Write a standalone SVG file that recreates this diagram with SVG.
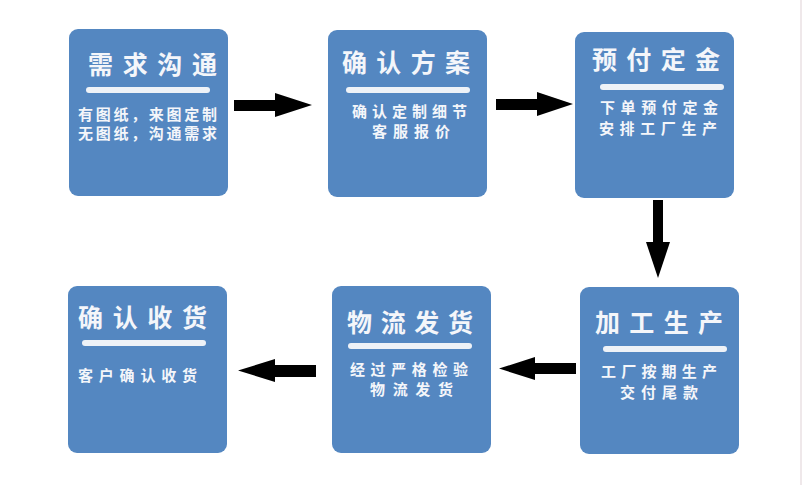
<svg xmlns="http://www.w3.org/2000/svg" width="802" height="486" viewBox="0 0 802 486">
<style>
.box{fill:#5487c1}
.bar{fill:#eef2f7}
.t{font-family:"Noto Sans CJK SC","Noto Sans CJK JP",sans-serif;font-size:25px;font-weight:bold;fill:#f4f6fa}
.s{font-family:"Noto Sans CJK SC","Noto Sans CJK JP",sans-serif;font-size:15px;font-weight:bold;fill:#f4f6fa}
.arr{fill:#000}
</style>
<rect width="802" height="486" fill="#ffffff"/>
<rect x="800" y="0" width="2" height="485" fill="#efe8ea"/>
<g id="node-xuqiu">
<rect class="box" x="69" y="29" width="159" height="167" rx="9"/>
<text class="t" x="88" y="74" textLength="129" lengthAdjust="spacing">需求沟通</text>
<rect class="bar" x="86" y="87" width="124" height="6" rx="3"/>
<text class="s" x="78" y="120" textLength="139" lengthAdjust="spacing">有图纸，来图定制</text>
<text class="s" x="78" y="139" textLength="139" lengthAdjust="spacing">无图纸，沟通需求</text>
</g>
<g id="node-fangan">
<rect class="box" x="328" y="30" width="159" height="167" rx="9"/>
<text class="t" x="342" y="72" textLength="128" lengthAdjust="spacing">确认方案</text>
<rect class="bar" x="346" y="87" width="124" height="6" rx="3"/>
<text class="s" x="352" y="117" textLength="115" lengthAdjust="spacing">确认定制细节</text>
<text class="s" x="372" y="137" textLength="78" lengthAdjust="spacing">客服报价</text>
</g>
<g id="node-dingjin">
<rect class="box" x="575" y="32" width="159" height="166" rx="9"/>
<text class="t" x="592" y="69" textLength="128" lengthAdjust="spacing">预付定金</text>
<rect class="bar" x="600" y="84" width="124" height="6" rx="3"/>
<text class="s" x="600" y="113" textLength="118" lengthAdjust="spacing">下单预付定金</text>
<text class="s" x="599" y="134" textLength="118" lengthAdjust="spacing">安排工厂生产</text>
</g>
<g id="node-shengchan">
<rect class="box" x="580" y="287" width="159" height="167" rx="9"/>
<text class="t" x="595" y="332" textLength="128" lengthAdjust="spacing">加工生产</text>
<rect class="bar" x="603" y="346" width="124" height="6" rx="3"/>
<text class="s" x="601" y="377" textLength="116" lengthAdjust="spacing">工厂按期生产</text>
<text class="s" x="620" y="398" textLength="78" lengthAdjust="spacing">交付尾款</text>
</g>
<g id="node-fahuo">
<rect class="box" x="332" y="286" width="159" height="167" rx="9"/>
<text class="t" x="347" y="332" textLength="126" lengthAdjust="spacing">物流发货</text>
<rect class="bar" x="348" y="343" width="124" height="6" rx="3"/>
<text class="s" x="350" y="375" textLength="118" lengthAdjust="spacing">经过严格检验</text>
<text class="s" x="370" y="395" textLength="83" lengthAdjust="spacing">物流发货</text>
</g>
<g id="node-shouhuo">
<rect class="box" x="68" y="286" width="159" height="167" rx="9"/>
<text class="t" x="78" y="327" textLength="129" lengthAdjust="spacing">确认收货</text>
<rect class="bar" x="82" y="340" width="124" height="6" rx="3"/>
<text class="s" x="78" y="381" textLength="119" lengthAdjust="spacing">客户确认收货</text>
</g>
<g id="connectors">
<polygon class="arr" points="234,100 275,100 275,93 312,105 275,117 275,111 234,111"/>
<polygon class="arr" points="496,99 537,99 537,92 573,104 537,116 537,110 496,110"/>
<polygon class="arr" points="653,200 663,200 663,242 670,242 658,278 646,242 653,242"/>
<polygon class="arr" points="576,363 535,363 535,357 499,368.5 535,380 535,374 576,374"/>
<polygon class="arr" points="316,365 275,365 275,359 238,370.5 275,382 275,377 316,377"/>
</g>
</svg>
